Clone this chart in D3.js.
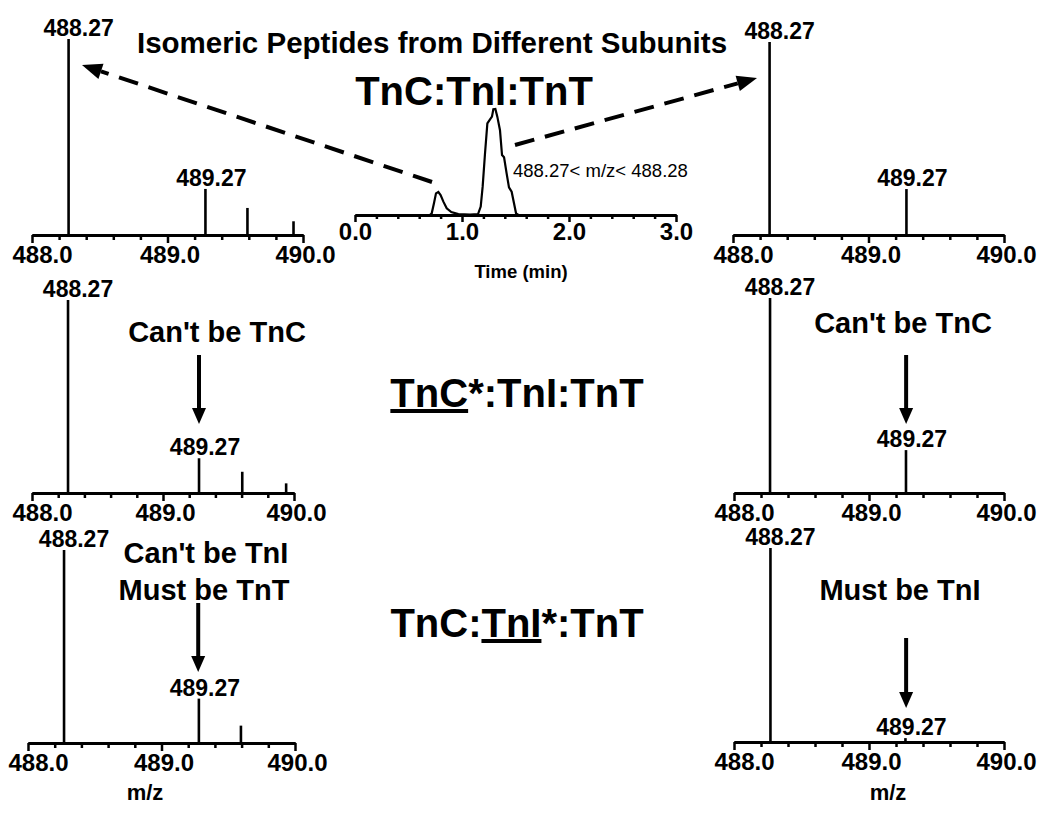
<!DOCTYPE html>
<html lang="en">
<head>
<meta charset="UTF-8">
<script src="https://cdnjs.cloudflare.com/ajax/libs/d3/7.8.5/d3.min.js"></script>
<style>
  body { margin: 0; background: #fff; }
  svg { display: block; font-family: "Liberation Sans", Arial, sans-serif; }
</style>
</head>
<body>
<svg id="fig" width="1050" height="813"></svg>
<script>
// ---- data ----
const mzTicks = [488.0, 489.0, 490.0];
const mzMinor = [488.2, 488.4, 488.6, 488.8, 489.2, 489.4, 489.6, 489.8];
const peakLabels = ["488.27", "489.27"];

// spectra: m/z and relative intensity (%)
const mzTopL = [488.27, 489.28, 489.59, 489.93];
const intTopL = [100, 23.5, 13.8, 7];
const mzTopR = [488.27, 489.28];
const intTopR = [100, 23.8];
const mzMidL = [488.275, 489.275, 489.605, 489.94];
const intMidL = [100, 18, 11, 5];
const mzMidR = [488.267, 489.274];
const intMidR = [100, 22];
const mzBotL = [488.27, 489.28, 489.595];
const intBotL = [100, 23, 9];
const mzBotR = [488.27, 489.27];
const intBotR = [100, 2];

// extracted ion chromatogram 488.27 < m/z < 488.28
const timeTicks = [0, 1, 2, 3];
const timeMinor = [0.2, 0.4, 0.6, 0.8, 1.2, 1.4, 1.6, 1.8, 2.2, 2.4, 2.6, 2.8];
const timeMin = [0.70, 0.717, 0.738, 0.757, 0.779, 0.80, 0.826, 0.857, 0.90, 0.966, 1.075, 1.15,
  1.175, 1.193, 1.215, 1.237, 1.262, 1.28, 1.293, 1.312, 1.33, 1.355, 1.374, 1.393, 1.417,
  1.439, 1.464, 1.486, 1.505, 1.527];
const eicInt = [0, 1.6, 11, 20.4, 21.7, 18.9, 12.6, 6.3, 2.8, 0.9, 0.3, 0.9,
  7.9, 26.7, 58, 86.5, 90.3, 92.8, 99.7, 100, 92.8, 80, 56.6, 54.4, 39.3,
  26, 22, 11, 1.6, 0];

const svg = d3.select("#fig");
const BOLD = "bold";

function arrowDown(g, x, y0, y1) {
  g.append("line").attr("x1", x).attr("x2", x).attr("y1", y0).attr("y2", y1 - 14)
    .attr("stroke", "#000").attr("stroke-width", 4);
  g.append("path").attr("d", `M${x - 7},${y1 - 16}L${x + 7},${y1 - 16}L${x},${y1}Z`).attr("fill", "#000");
}

function spectrum(cfg, mz, inten) {
  const g = svg.append("g");
  const x = d3.scaleLinear().domain([488, 490]).range([cfg.x0, cfg.x1]);
  const y = d3.scaleLinear().domain([0, 100]).range([cfg.axisY, cfg.topY]);
  const pts = d3.zip(mz, inten);

  g.selectAll("line.peak").data(pts).join("line").attr("class", "peak")
    .attr("x1", d => x(d[0])).attr("x2", d => x(d[0]))
    .attr("y1", y(0)).attr("y2", d => y(d[1]))
    .attr("stroke", "#000").attr("stroke-width", 2.6);

  g.selectAll("text.plab").data(pts.slice(0, 2)).join("text").attr("class", "plab")
    .attr("x", (d, i) => x(d[0]) + (i === 0 ? 10 : 6)).attr("y", d => y(d[1]) - 3)
    .attr("text-anchor", "middle").attr("font-size", 23).attr("font-weight", BOLD)
    .text((d, i) => peakLabels[i]);

  const minor = d3.axisBottom(x).tickValues(mzMinor).tickSize(5).tickSizeOuter(0).tickFormat("");
  const major = d3.axisBottom(x).tickValues(mzTicks).tickSize(8).tickSizeOuter(0).tickPadding(3)
    .tickFormat(d3.format(".1f"));
  const ga = g.append("g").attr("transform", `translate(0,${cfg.axisY})`);
  ga.append("g").call(minor);
  const gm = ga.append("g").call(major);
  ga.selectAll("path.domain").attr("stroke-width", 3).attr("stroke", "#000");
  ga.selectAll(".tick line").attr("stroke-width", 2.5).attr("stroke", "#000");
  gm.selectAll("text").attr("font-size", 24).attr("font-weight", BOLD).attr("fill", "#000")
    .attr("font-family", null).attr("dx", (d, i) => i === 0 ? 10 : 2);

  (cfg.notes || []).forEach(n => {
    g.append("text").attr("x", n.cx).attr("y", n.y).attr("text-anchor", "middle")
      .attr("font-size", 29).attr("font-weight", BOLD).text(n.t);
  });
  if (cfg.arrow) arrowDown(g, x(489.275), cfg.arrow[0], cfg.arrow[1]);
  if (cfg.xlab) {
    g.append("text").attr("x", cfg.xlab).attr("y", 800).attr("text-anchor", "middle")
      .attr("font-size", 22).attr("font-weight", BOLD).text("m/z");
  }
}

spectrum({ x0: 32, x1: 303, axisY: 235, topY: 39 }, mzTopL, intTopL);
spectrum({ x0: 733, x1: 1004, axisY: 235, topY: 42 }, mzTopR, intTopR);
spectrum({ x0: 32, x1: 294, axisY: 493, topY: 300, notes: [{ t: "Can't be TnC", cx: 217, y: 342 }],
  arrow: [355, 424] }, mzMidL, intMidL);
spectrum({ x0: 734, x1: 1004, axisY: 493, topY: 298, notes: [{ t: "Can't be TnC", cx: 903, y: 333 }],
  arrow: [355, 424] }, mzMidR, intMidR);
spectrum({ x0: 28, x1: 295, axisY: 743, topY: 550,
  notes: [{ t: "Can't be TnI", cx: 206, y: 563 }, { t: "Must be TnT", cx: 204, y: 600 }],
  arrow: [603, 672], xlab: 145 }, mzBotL, intBotL);
spectrum({ x0: 734, x1: 1004, axisY: 742, topY: 548, notes: [{ t: "Must be TnI", cx: 900, y: 600 }],
  arrow: [638, 708], xlab: 888 }, mzBotR, intBotR);

// ---- chromatogram in the centre ----
const tx = d3.scaleLinear().domain([0, 3]).range([355, 676]);
const ty = d3.scaleLinear().domain([0, 100]).range([215, 109]);
const gc = svg.append("g");
gc.append("path").datum(d3.zip(timeMin, eicInt))
  .attr("d", d3.line().x(d => tx(d[0])).y(d => ty(d[1])))
  .attr("fill", "none").attr("stroke", "#000").attr("stroke-width", 2.2);
const gca = gc.append("g").attr("transform", "translate(0,215)");
gca.append("g").call(d3.axisBottom(tx).tickValues(timeMinor).tickSize(4).tickSizeOuter(0).tickFormat(""));
const gct = gca.append("g").call(d3.axisBottom(tx).tickValues(timeTicks).tickSize(7).tickSizeOuter(0)
  .tickPadding(1).tickFormat(d3.format(".1f")));
gca.selectAll("path.domain").attr("stroke-width", 3).attr("stroke", "#000");
gca.selectAll(".tick line").attr("stroke-width", 2.5).attr("stroke", "#000");
gct.selectAll("text").attr("font-size", 24).attr("font-weight", BOLD).attr("fill", "#000").attr("font-family", null);
gc.append("text").attr("x", 521).attr("y", 278).attr("text-anchor", "middle")
  .attr("font-size", 18.5).attr("font-weight", BOLD).text("Time (min)");
gc.append("text").attr("x", 513).attr("y", 177).attr("font-size", 18.5).text("488.27< m/z< 488.28");

// ---- titles ----
svg.append("text").attr("x", 432).attr("y", 53).attr("text-anchor", "middle")
  .attr("font-size", 29.5).attr("font-weight", BOLD).text("Isomeric Peptides from Different Subunits");
svg.append("text").attr("x", 474).attr("y", 105).attr("text-anchor", "middle")
  .attr("font-size", 40).text("TnC:TnI:TnT").attr("font-weight", BOLD);

const t1 = svg.append("text").attr("x", 517).attr("y", 407).attr("text-anchor", "middle")
  .attr("font-size", 40).attr("font-weight", BOLD);
t1.append("tspan").style("text-decoration", "underline").text("TnC");
t1.append("tspan").text("*:TnI:TnT");
const t2 = svg.append("text").attr("x", 517).attr("y", 637).attr("text-anchor", "middle")
  .attr("font-size", 40).attr("font-weight", BOLD);
t2.append("tspan").text("TnC:");
t2.append("tspan").style("text-decoration", "underline").text("TnI");
t2.append("tspan").text("*:TnT");

// ---- dashed arrows from the two EIC peaks to the spectra ----
function dashArrow(x0, y0, x1, y1) {
  const a = Math.atan2(y1 - y0, x1 - x0), L = 20, w = 8;
  const bx = x1 - L * Math.cos(a), by = y1 - L * Math.sin(a);
  svg.append("line").attr("x1", x0).attr("y1", y0).attr("x2", bx).attr("y2", by)
    .attr("stroke", "#000").attr("stroke-width", 4).attr("stroke-dasharray", "20,11");
  svg.append("path").attr("fill", "#000").attr("d",
    `M${x1},${y1}L${bx + w * Math.sin(a)},${by - w * Math.cos(a)}L${bx - w * Math.sin(a)},${by + w * Math.cos(a)}Z`);
}
dashArrow(432, 182, 82, 65);
dashArrow(515, 145, 757, 78);
</script>
</body>
</html>
